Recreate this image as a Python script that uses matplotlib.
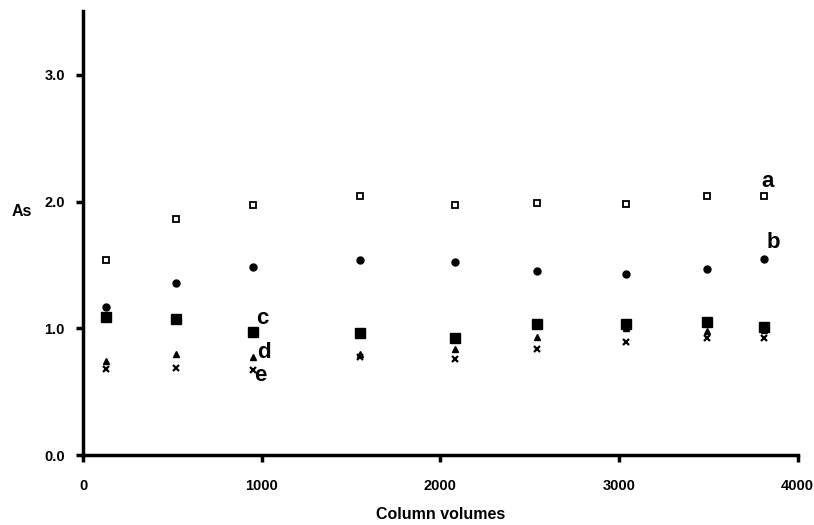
import matplotlib
matplotlib.use("Agg")
import matplotlib.pyplot as plt

plt.rcParams['font.family'] = ['Liberation Sans', 'DejaVu Sans']

column_volumes = [130, 520, 950, 1550, 2080, 2540, 3040, 3490, 3810]
series_a = [1.54, 1.86, 1.97, 2.04, 1.97, 1.99, 1.98, 2.04, 2.04]
series_b = [1.17, 1.36, 1.48, 1.54, 1.52, 1.45, 1.43, 1.47, 1.55]
series_c = [1.09, 1.07, 0.97, 0.96, 0.92, 1.03, 1.03, 1.05, 1.01]
series_d = [0.74, 0.80, 0.77, 0.80, 0.84, 0.93, 1.00, 0.98, 0.99]
series_e = [0.68, 0.69, 0.67, 0.77, 0.76, 0.84, 0.89, 0.92, 0.92]

series_labels = ['a', 'b', 'c', 'd', 'e']
label_pos = [(3830, 2.16), (3865, 1.68), (1005, 1.08), (1010, 0.81), (990, 0.63)]

x_ticks = [0, 1000, 2000, 3000, 4000]
y_ticks = [0.0, 1.0, 2.0, 3.0]

fig = plt.figure(figsize=(8.14, 5.25), dpi=100)
ax = fig.add_axes([0.102, 0.1333, 0.878, 0.845])

ax.plot(column_volumes, series_a, ls='none', marker='s', ms=4.5, mfc='white', mec='black', mew=1.3)
ax.plot(column_volumes, series_b, ls='none', marker='o', ms=5, mfc='black', mec='black')
ax.plot(column_volumes, series_c, ls='none', marker='s', ms=6.5, mfc='black', mec='black')
ax.plot(column_volumes, series_d, ls='none', marker='^', ms=4.5, mfc='black', mec='black')
ax.plot(column_volumes, series_e, ls='none', marker='x', ms=4.2, mec='black', mew=1.6)

for lab, (lx, ly) in zip(series_labels, label_pos):
    ax.text(lx, ly, lab, fontsize=16, fontweight='bold', ha='center', va='center')

ax.set_xlim(0, 4000)
ax.set_ylim(0, 3.5)
ax.set_xticks(x_ticks)
ax.set_yticks(y_ticks)
ax.set_xticklabels([str(v) for v in x_ticks], fontsize=10.5, fontweight='bold')
ax.set_yticklabels(['%.1f' % v for v in y_ticks], fontsize=10.5, fontweight='bold')

for s in ['top', 'right']:
    ax.spines[s].set_visible(False)
for s in ['left', 'bottom']:
    ax.spines[s].set_linewidth(2.5)

ax.tick_params(axis='both', direction='out', length=5, width=2.5)
ax.tick_params(axis='y', pad=8)
ax.tick_params(axis='x', pad=12)

ax.set_xlabel('Column volumes', fontsize=11.5, fontweight='bold', labelpad=10)
fig.text(0.027, 1 - 212 / 525, 'As', fontsize=11.5, fontweight='bold', ha='center', va='center')

fig.savefig('out.png', dpi=100)
